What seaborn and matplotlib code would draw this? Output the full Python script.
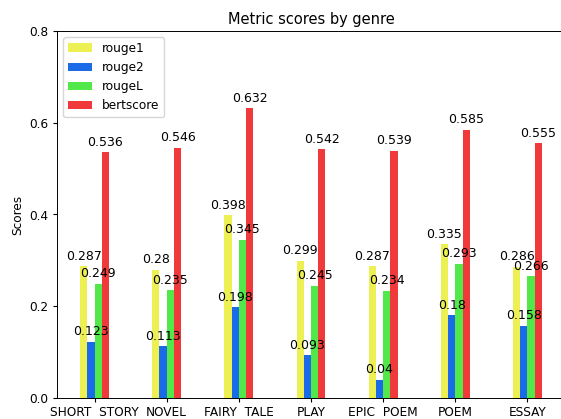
import numpy as np
import pandas as pd
import matplotlib
matplotlib.use("Agg")
import matplotlib.pyplot as plt
import seaborn as sns

genres = ["SHORT  STORY", "NOVEL", "FAIRY  TALE", "PLAY", "EPIC  POEM", "POEM", "ESSAY"]
metrics = ["rouge1", "rouge2", "rougeL", "bertscore"]

rouge1 = [0.287, 0.28, 0.398, 0.299, 0.287, 0.335, 0.286]
rouge2 = [0.123, 0.113, 0.198, 0.093, 0.04, 0.18, 0.158]
rougeL = [0.249, 0.235, 0.345, 0.245, 0.234, 0.293, 0.266]
bertscore = [0.536, 0.546, 0.632, 0.542, 0.539, 0.585, 0.555]

colors = ["#ecf052", "#1a6be8", "#52e84a", "#f0393a"]

plt.rcParams.update({
    "font.size": 8.75,
    "xtick.major.size": 3.1, "ytick.major.size": 3.1,
    "xtick.major.pad": 3.0, "ytick.major.pad": 3.0,
    "axes.linewidth": 0.7,
})

scores = {"rouge1": rouge1, "rouge2": rouge2, "rougeL": rougeL, "bertscore": bertscore}
rows = []
for m in metrics:
    for g, v in zip(genres, scores[m]):
        rows.append({"genre": g, "metric": m, "score": v})
df = pd.DataFrame(rows)

fig = plt.figure(figsize=(5.61, 4.19), dpi=100)
ax = fig.add_axes([57 / 561, 21 / 419, 508 / 561, 367 / 419])

sns.barplot(data=df, x="genre", y="score", hue="metric", hue_order=metrics,
            palette=colors, width=0.4, saturation=1, errorbar=None, ax=ax)

# value labels on top of every bar
for container in ax.containers:
    ax.bar_label(container, fmt="%g", padding=2.5, fontsize=9)

ax.set_xlim(-0.52, 6.52)
ax.set_ylim(0, 0.8)
ax.set_yticks([0.0, 0.2, 0.4, 0.6, 0.8])
ax.set_xlabel("")
ax.set_ylabel("Scores")
ax.set_title("Metric scores by genre", fontsize=10.5, pad=5.2)
ax.legend(loc="upper left")

fig.savefig("out.png", dpi=100)
